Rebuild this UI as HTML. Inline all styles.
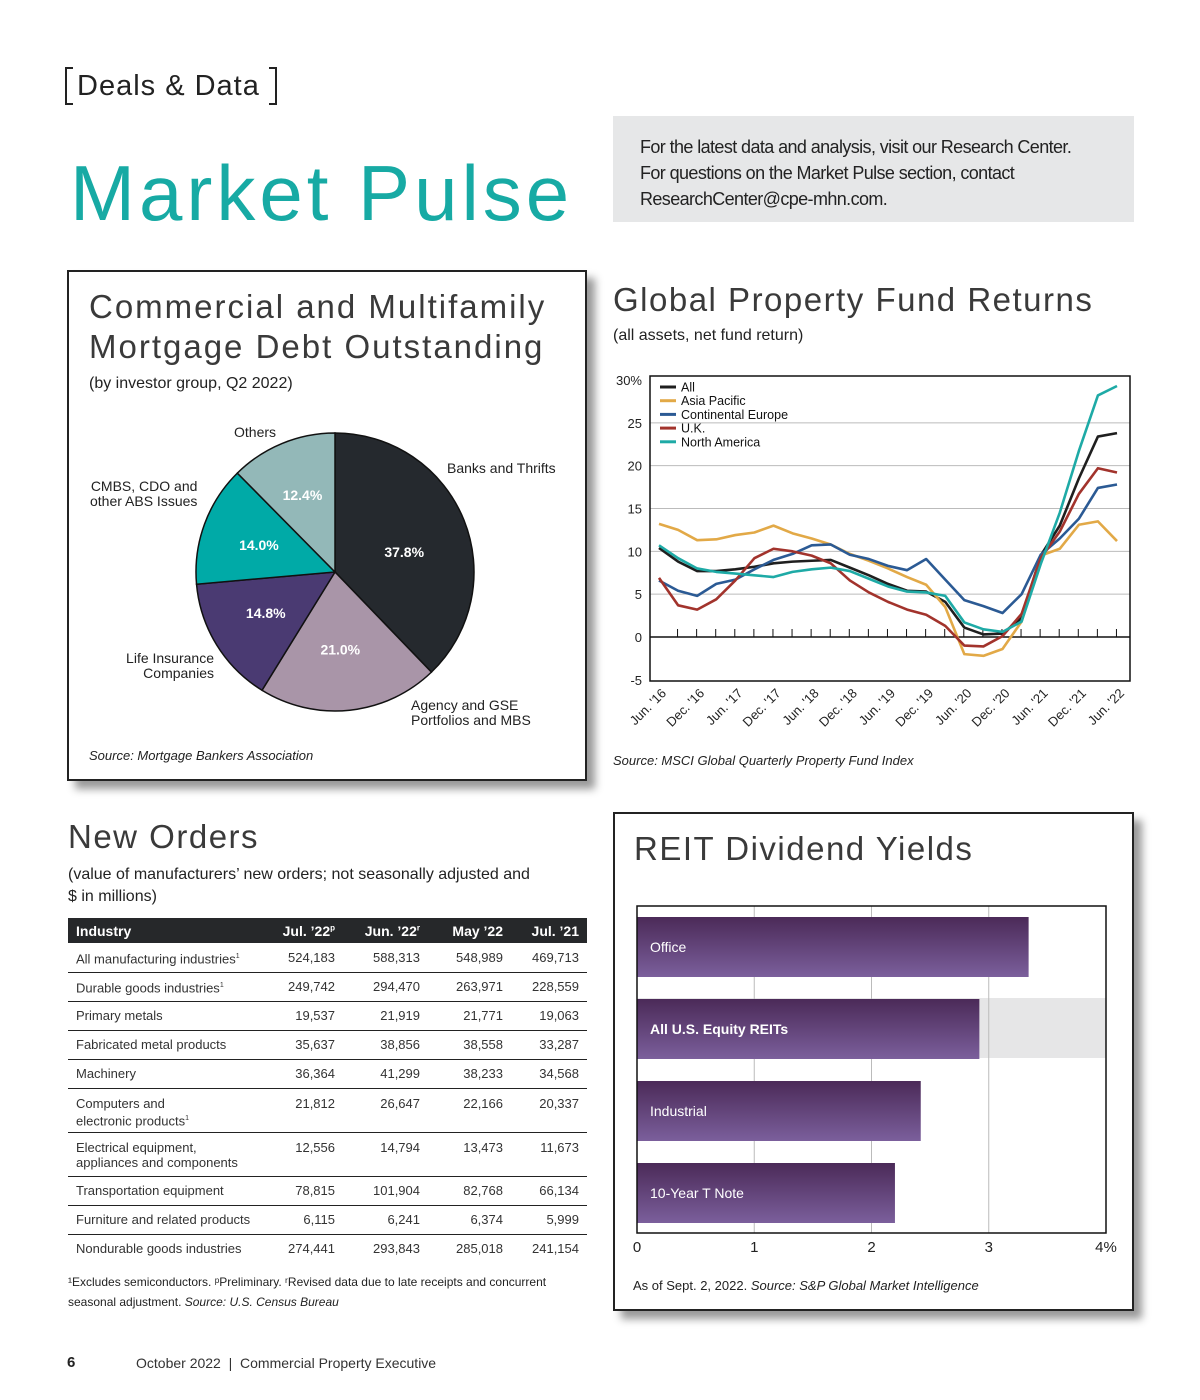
<!DOCTYPE html>
<html><head><meta charset="utf-8"><style>
*{margin:0;padding:0;box-sizing:border-box}
body{width:1200px;height:1400px;background:#fff;position:relative;font-family:"Liberation Sans",sans-serif;color:#222;overflow:hidden}
.a{position:absolute;white-space:nowrap}
.h{font-weight:normal;color:#3a3a3a;letter-spacing:1.5px}
table{border-collapse:collapse;position:absolute;left:68px;top:918px;width:519px;font-size:13px;color:#333;table-layout:fixed}
th{background:#26282a;color:#fff;font-size:14px;text-align:right;height:25px;padding:0 8px 0 0}
th:first-child{text-align:left;padding-left:8px}
td{text-align:right;padding:0 8px 0 0;border-bottom:1.5px solid #222;height:29px;vertical-align:middle}
td:first-child{text-align:left;padding-left:8px;line-height:15px}
tr.t td{height:44px;vertical-align:top;padding-top:7px}
tr:last-child td{border-bottom:none}
</style></head><body>
<div class="a" style="left:65px;top:67px;width:212px;height:38px;border:2px solid #222;border-top:none;border-bottom:none;font-size:29px;line-height:38px;padding-left:10px;letter-spacing:1px">Deals &amp; Data</div>
<div class="a" style="left:65px;top:67px;width:8px;height:38px;border-top:2px solid #222;border-bottom:2px solid #222"></div>
<div class="a" style="left:269px;top:67px;width:8px;height:38px;border-top:2px solid #222;border-bottom:2px solid #222"></div>
<div class="a" style="left:70px;top:148px;font-size:78px;color:#17aaa4;letter-spacing:4px">Market Pulse</div>
<div class="a" style="left:613px;top:116px;width:521px;height:106px;background:#e6e7e8;padding:18px 0 0 27px;font-size:18px;line-height:26px;color:#222;white-space:normal;letter-spacing:-0.6px">For the latest data and analysis, visit our Research Center.<br>For questions on the Market Pulse section, contact<br>ResearchCenter@cpe-mhn.com.</div>

<!-- Pie card -->
<div class="a" style="left:67px;top:270px;width:520px;height:511px;border:2px solid #222;box-shadow:8px 8px 8px #999"></div>
<div class="a h" style="left:89px;top:287px;font-size:33px;line-height:40px;letter-spacing:2px">Commercial and Multifamily<br>Mortgage Debt Outstanding</div>
<div class="a" style="left:89px;top:375px;font-size:16px">(by investor group, Q2 2022)</div>
<svg class="a" style="left:0;top:0" width="600" height="800" id="pie"></svg>
<div class="a" style="left:234px;top:424px;font-size:14px">Others</div>
<div class="a" style="left:447px;top:460px;font-size:14px">Banks and Thrifts</div>
<div class="a" style="left:90px;top:479px;font-size:14px;text-align:right;line-height:15px">CMBS, CDO and<br>other ABS Issues</div>
<div class="a" style="left:114px;top:651px;width:100px;font-size:14px;text-align:right;line-height:15px">Life Insurance<br>Companies</div>
<div class="a" style="left:411px;top:698px;font-size:14px;line-height:15px">Agency and GSE<br>Portfolios and MBS</div>
<div class="a" style="left:89px;top:748px;font-size:13px;font-style:italic">Source: Mortgage Bankers Association</div>

<!-- Line chart -->
<div class="a h" style="left:613px;top:281px;font-size:33px">Global Property Fund Returns</div>
<div class="a" style="left:613px;top:327px;font-size:16px">(all assets, net fund return)</div>
<svg class="a" style="left:600px;top:360px" width="560" height="390" id="line"></svg>
<div class="a" style="left:613px;top:753px;font-size:13px;font-style:italic">Source: MSCI Global Quarterly Property Fund Index</div>

<!-- Table -->
<div class="a h" style="left:68px;top:818px;font-size:33px">New Orders</div>
<div class="a" style="left:68px;top:864px;font-size:16px;line-height:22px">(value of manufacturers’ new orders; not seasonally adjusted and<br>$ in millions)</div>
<table>
<colgroup><col style="width:192px"><col style="width:83px"><col style="width:85px"><col style="width:83px"><col style="width:76px"></colgroup>
<tr><th>Industry</th><th>Jul. ’22<sup style="font-size:8px">p</sup></th><th>Jun. ’22<sup style="font-size:8px">r</sup></th><th>May ’22</th><th>Jul. ’21</th></tr>
<tr><td>All manufacturing industries<sup style="font-size:7px">1</sup></td><td>524,183</td><td>588,313</td><td>548,989</td><td>469,713</td></tr>
<tr><td>Durable goods industries<sup style="font-size:7px">1</sup></td><td>249,742</td><td>294,470</td><td>263,971</td><td>228,559</td></tr>
<tr><td>Primary metals</td><td>19,537</td><td>21,919</td><td>21,771</td><td>19,063</td></tr>
<tr><td>Fabricated metal products</td><td>35,637</td><td>38,856</td><td>38,558</td><td>33,287</td></tr>
<tr><td>Machinery</td><td>36,364</td><td>41,299</td><td>38,233</td><td>34,568</td></tr>
<tr class="t"><td>Computers and<br>electronic products<sup style="font-size:7px">1</sup></td><td>21,812</td><td>26,647</td><td>22,166</td><td>20,337</td></tr>
<tr class="t"><td>Electrical equipment,<br>appliances and components</td><td>12,556</td><td>14,794</td><td>13,473</td><td>11,673</td></tr>
<tr><td>Transportation equipment</td><td>78,815</td><td>101,904</td><td>82,768</td><td>66,134</td></tr>
<tr><td>Furniture and related products</td><td>6,115</td><td>6,241</td><td>6,374</td><td>5,999</td></tr>
<tr><td>Nondurable goods industries</td><td>274,441</td><td>293,843</td><td>285,018</td><td>241,154</td></tr>
</table>
<div class="a" style="left:68px;top:1272px;font-size:12px;line-height:20px">¹Excludes semiconductors. ᵖPreliminary. ʳRevised data due to late receipts and concurrent<br>seasonal adjustment. <i>Source: U.S. Census Bureau</i></div>

<!-- Bar card -->
<div class="a" style="left:613px;top:812px;width:521px;height:499px;border:2px solid #222;box-shadow:8px 8px 8px #999"></div>
<div class="a h" style="left:634px;top:830px;font-size:33px">REIT Dividend Yields</div>
<svg class="a" style="left:600px;top:890px" width="540" height="380" id="bar"></svg>
<div class="a" style="left:633px;top:1278px;font-size:13px">As of Sept. 2, 2022. <i>Source: S&amp;P Global Market Intelligence</i></div>

<div class="a" style="left:67px;top:1354px;font-size:15px;font-weight:bold">6</div>
<div class="a" style="left:136px;top:1355px;font-size:14px;color:#333">October 2022 &nbsp;|&nbsp; Commercial Property Executive</div>

<script>
const NS='http://www.w3.org/2000/svg';
function mk(p,t,a){const e=document.createElementNS(NS,t);for(const k in a)e.setAttribute(k,a[k]);p.appendChild(e);return e;}

// PIE
const pieLabels=['Banks and Thrifts','Agency and GSE','Life Insurance','CMBS, CDO','Others'];
const pieValues=[37.8,21.0,14.8,14.0,12.4];
const pieColors=['#25292e','#a995a8','#4a3a72','#00aaa7','#93b8b8'];
(function(){
const s=document.getElementById('pie');const cx=335,cy=572,r=139;
let a0=0;const tot=pieValues.reduce((a,b)=>a+b,0);
pieValues.forEach((v,i)=>{
 const a1=a0+v/tot*2*Math.PI;
 const p=(a)=>[cx+r*Math.sin(a),cy-r*Math.cos(a)];
 const [x0,y0]=p(a0),[x1,y1]=p(a1);
 const path=mk(s,'path',{d:`M${cx},${cy}L${x0},${y0}A${r},${r} 0 ${a1-a0>Math.PI?1:0} 1 ${x1},${y1}Z`,fill:pieColors[i],stroke:'#111','stroke-width':1.5});
 
 
 const am=(a0+a1)/2,lr=r*0.56;
 const t=mk(s,'text',{x:cx+lr*Math.sin(am)-3,y:cy-lr*Math.cos(am)+5+(i===0?9:0)-(i===4?5:0),'text-anchor':'middle',fill:'#fff','font-size':14,'font-weight':'bold','font-family':'Liberation Sans'});
 t.textContent=v.toFixed(1)+'%';
 
 
 a0=a1;
});
})();

// LINE
const quarters=25;
const xLabels=["Jun. '16","Dec. '16","Jun. '17","Dec. '17","Jun. '18","Dec. '18","Jun. '19","Dec. '19","Jun. '20","Dec. '20","Jun. '21","Dec. '21","Jun. '22"];
const yTicks=[30,25,20,15,10,5,0,-5];
const seriesNames=['All','Asia Pacific','Continental Europe','U.K.','North America'];
const seriesColors=['#1f1f1f','#e2a947','#2b5a94','#a2332c','#1eaaa6'];
const allVals=[10.4,8.8,7.7,7.7,7.9,8.2,8.6,8.8,8.9,9.0,8.1,7.2,6.2,5.4,5.3,4.1,1.1,0.3,0.4,2.2,9.5,13.0,18.5,23.4,23.8];
const asiaVals=[13.2,12.5,11.3,11.4,11.9,12.2,13.0,12.1,11.5,10.8,9.7,8.9,8.0,7.0,6.1,3.5,-2.0,-2.2,-1.4,1.8,9.5,10.3,13.1,13.5,11.2];
const euroVals=[6.6,5.4,4.8,6.2,6.7,7.9,9.0,9.7,10.7,10.8,9.6,9.1,8.3,7.8,9.1,6.7,4.3,3.6,2.8,5.0,9.6,11.5,13.8,17.4,17.8];
const ukVals=[6.9,3.7,3.2,4.4,6.6,9.2,10.3,10.0,9.5,8.6,6.6,5.2,4.1,3.2,2.6,1.3,-1.0,-1.1,0.1,2.7,9.2,12.3,16.7,19.7,19.2];
const naVals=[10.7,9.2,8.0,7.6,7.4,7.2,7.0,7.6,7.9,8.1,7.7,6.8,5.9,5.3,5.2,4.8,1.7,0.9,0.6,1.8,8.5,14.5,21.7,28.2,29.3];
(function(){
const s=document.getElementById('line');
const L=50,R=530,T=16,B=321;
const x=i=>59+i*(517-59)/(quarters-1);
const y=v=>277-v*(277-20)/30;
yTicks.forEach(v=>{
 if(v>0&&v<30)mk(s,'line',{x1:L,x2:R,y1:y(v),y2:y(v),stroke:'#bbb','stroke-width':1});
 const t=mk(s,'text',{x:42,y:y(v)+5,'text-anchor':'end','font-size':13,'font-family':'Liberation Sans',fill:'#222'});
 t.textContent=v+(v===30?'%':'');
});
mk(s,'rect',{x:L,y:T,width:R-L,height:B-T,fill:'none',stroke:'#111','stroke-width':1.5});
mk(s,'line',{x1:L,x2:R,y1:y(0),y2:y(0),stroke:'#111','stroke-width':1.5});
for(let i=1;i<quarters;i++){const xx=(x(i-1)+x(i))/2+9;mk(s,'line',{x1:xx,x2:xx,y1:y(0)-8,y2:y(0),stroke:'#111','stroke-width':1});}
xLabels.forEach((l,k)=>{const xx=x(k*2)+8,yy=334;
 const t=mk(s,'text',{x:xx,y:yy,transform:`rotate(-45 ${xx} ${yy})`,'text-anchor':'end','font-size':13,'font-family':'Liberation Sans',fill:'#222'});
 t.textContent=l;});
[allVals,asiaVals,euroVals,ukVals,naVals].forEach((vals,si)=>{
 const p=mk(s,'polyline',{points:vals.map((v,i)=>x(i)+','+y(v)).join(' '),fill:'none',stroke:seriesColors[si],'stroke-width':2.6,'stroke-linejoin':'round'});
 
 
});
seriesNames.forEach((n,i)=>{const yy=27+i*13.7;
 mk(s,'line',{x1:60,x2:76,y1:yy,y2:yy,stroke:seriesColors[i],'stroke-width':3});
 const t=mk(s,'text',{x:81,y:yy+4.5,'font-size':12.5,'font-family':'Liberation Sans',fill:'#111'});t.textContent=n;
 
 
});
})();

// BAR
const barCats=['Office','All U.S. Equity REITs','Industrial','10-Year T Note'];
const barVals=[3.34,2.92,2.42,2.20];
const barTicks=[0,1,2,3,4];
(function(){
const s=document.getElementById('bar');
const defs=mk(s,'defs',{});const g=mk(defs,'linearGradient',{id:'pg',x1:0,y1:0,x2:0,y2:1});
mk(g,'stop',{offset:0,'stop-color':'#4b2a58'});mk(g,'stop',{offset:1,'stop-color':'#7b5f9c'});
const x0=37,x4=506,T=16,B=343;
const x=v=>x0+v*(x4-x0)/4;
mk(s,'rect',{x:x0,y:108,width:x4-x0,height:60,fill:'#e6e6e7'});
barTicks.forEach(v=>{
 if(v>0&&v<4)mk(s,'line',{x1:x(v),x2:x(v),y1:T,y2:B,stroke:'#bbb','stroke-width':1});
 const t=mk(s,'text',{x:x(v),y:B+19,'text-anchor':'middle','font-size':15,'font-family':'Liberation Sans',fill:'#222'});
 t.textContent=v+(v===4?'%':'');
});
barVals.forEach((v,i)=>{const yy=27+i*82;
 const r=mk(s,'rect',{x:x0,y:yy,width:x(v)-x0,height:60,fill:'url(#pg)'});
 
 
 const t=mk(s,'text',{x:50,y:yy+35,'font-size':14,'font-weight':i===1?'bold':'normal','font-family':'Liberation Sans',fill:'#fff'});
 t.textContent=barCats[i];
});
mk(s,'rect',{x:x0,y:T,width:x4-x0,height:B-T,fill:'none',stroke:'#111','stroke-width':1.5});
})();
</script>
</body></html>
